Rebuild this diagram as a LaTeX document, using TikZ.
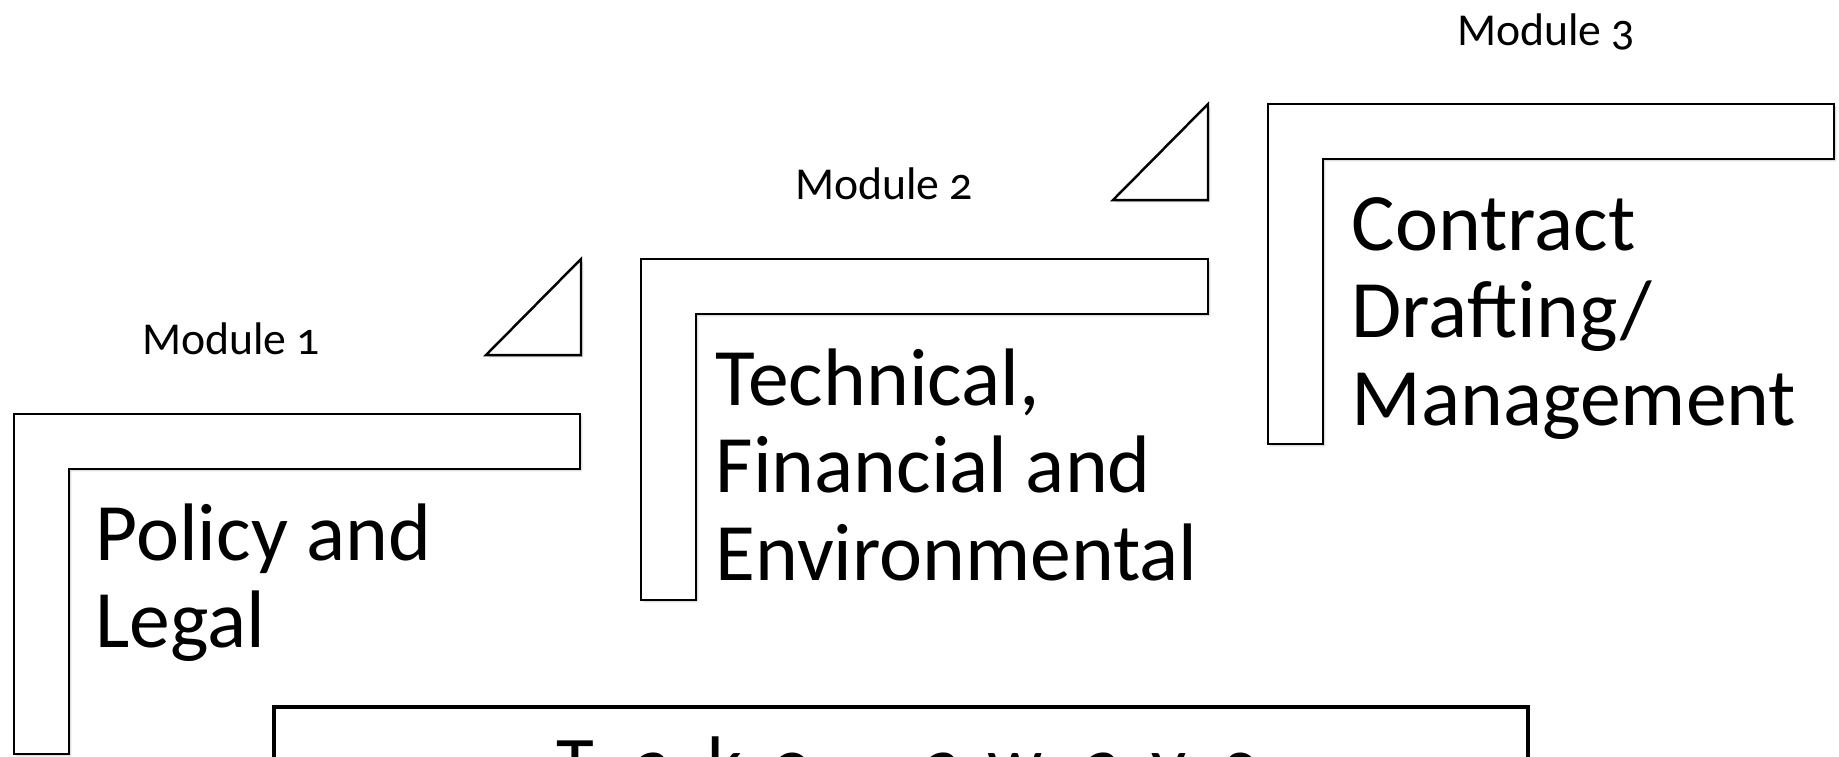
\documentclass[tikz,border=0pt]{standalone}
\usepackage{fontspec}
\setmainfont{Carlito}[Numbers=OldStyle]
\usetikzlibrary{shadows}
\newlength{\pxu}
\setlength{\pxu}{0.01cm}
\newcommand{\lbox}[2]{\makebox[#1\pxu][l]{#2}}
\begin{document}
\begin{tikzpicture}[x=0.01cm,y=-0.01cm,
  lshape/.style={draw=black, line width=0.7pt, fill=white, line join=miter,
    drop shadow={opacity=0.25, shadow xshift=0.7pt, shadow yshift=-0.7pt}},
  tri/.style={lshape},
  takebox/.style={draw=black, line width=1.4pt, fill=white},
  modlabel/.style={font=\fontsize{13}{15}\selectfont, inner sep=0pt, anchor=base},
  topic/.style={font=\fontsize{23.2}{25}\selectfont, inner sep=0pt, anchor=base west},
  takelabel/.style={font=\fontsize{22}{26}\selectfont, inner sep=0pt, anchor=base west}
  ]
\path[use as bounding box] (0,0) rectangle (1839,756);
\clip (0,0) rectangle (1839,756);

% L shapes
\path[lshape] (14,414) -- (580,414) -- (580,469) -- (69,469) -- (69,754) -- (14,754) -- cycle;
\path[lshape] (641,259) -- (1208,259) -- (1208,314) -- (696,314) -- (696,600) -- (641,600) -- cycle;
\path[lshape] (1268,104) -- (1834,104) -- (1834,159) -- (1323,159) -- (1323,444) -- (1268,444) -- cycle;

% triangles
\path[tri] (486,355) -- (581,355) -- (581,259) -- cycle;
\path[tri] (1113,200) -- (1208,200) -- (1208,104) -- cycle;

% module labels
\node[modlabel] (m1) at (231,354) {Module 1};
\node[modlabel] (m2) at (884,199) {Module 2};
\node[modlabel] (m3) at (1546,45) {Module 3};

% topic texts
\node[topic] (policy) at (95,560) {\begin{tabular}[t]{@{}l@{}}Policy and\\Legal\end{tabular}};
\node[topic] (tech) at (715,405) {\begin{tabular}[t]{@{}l@{}}Technical,\\Financial and\\Environmental\end{tabular}};
\node[topic] (contract) at (1351,250) {\begin{tabular}[t]{@{}l@{}}Contract\\Drafting/\\Management\end{tabular}};

% takeaways box
\draw[takebox] (274,707) rectangle (1528,820);
\node[takelabel] (take) at (556,790)
  {\lbox{78}{T}\lbox{73}{a}\lbox{65}{k}\lbox{152}{e-}\lbox{63}{a}\lbox{97}{w}\lbox{67}{a}\lbox{73}{y}s};
\end{tikzpicture}
\end{document}
